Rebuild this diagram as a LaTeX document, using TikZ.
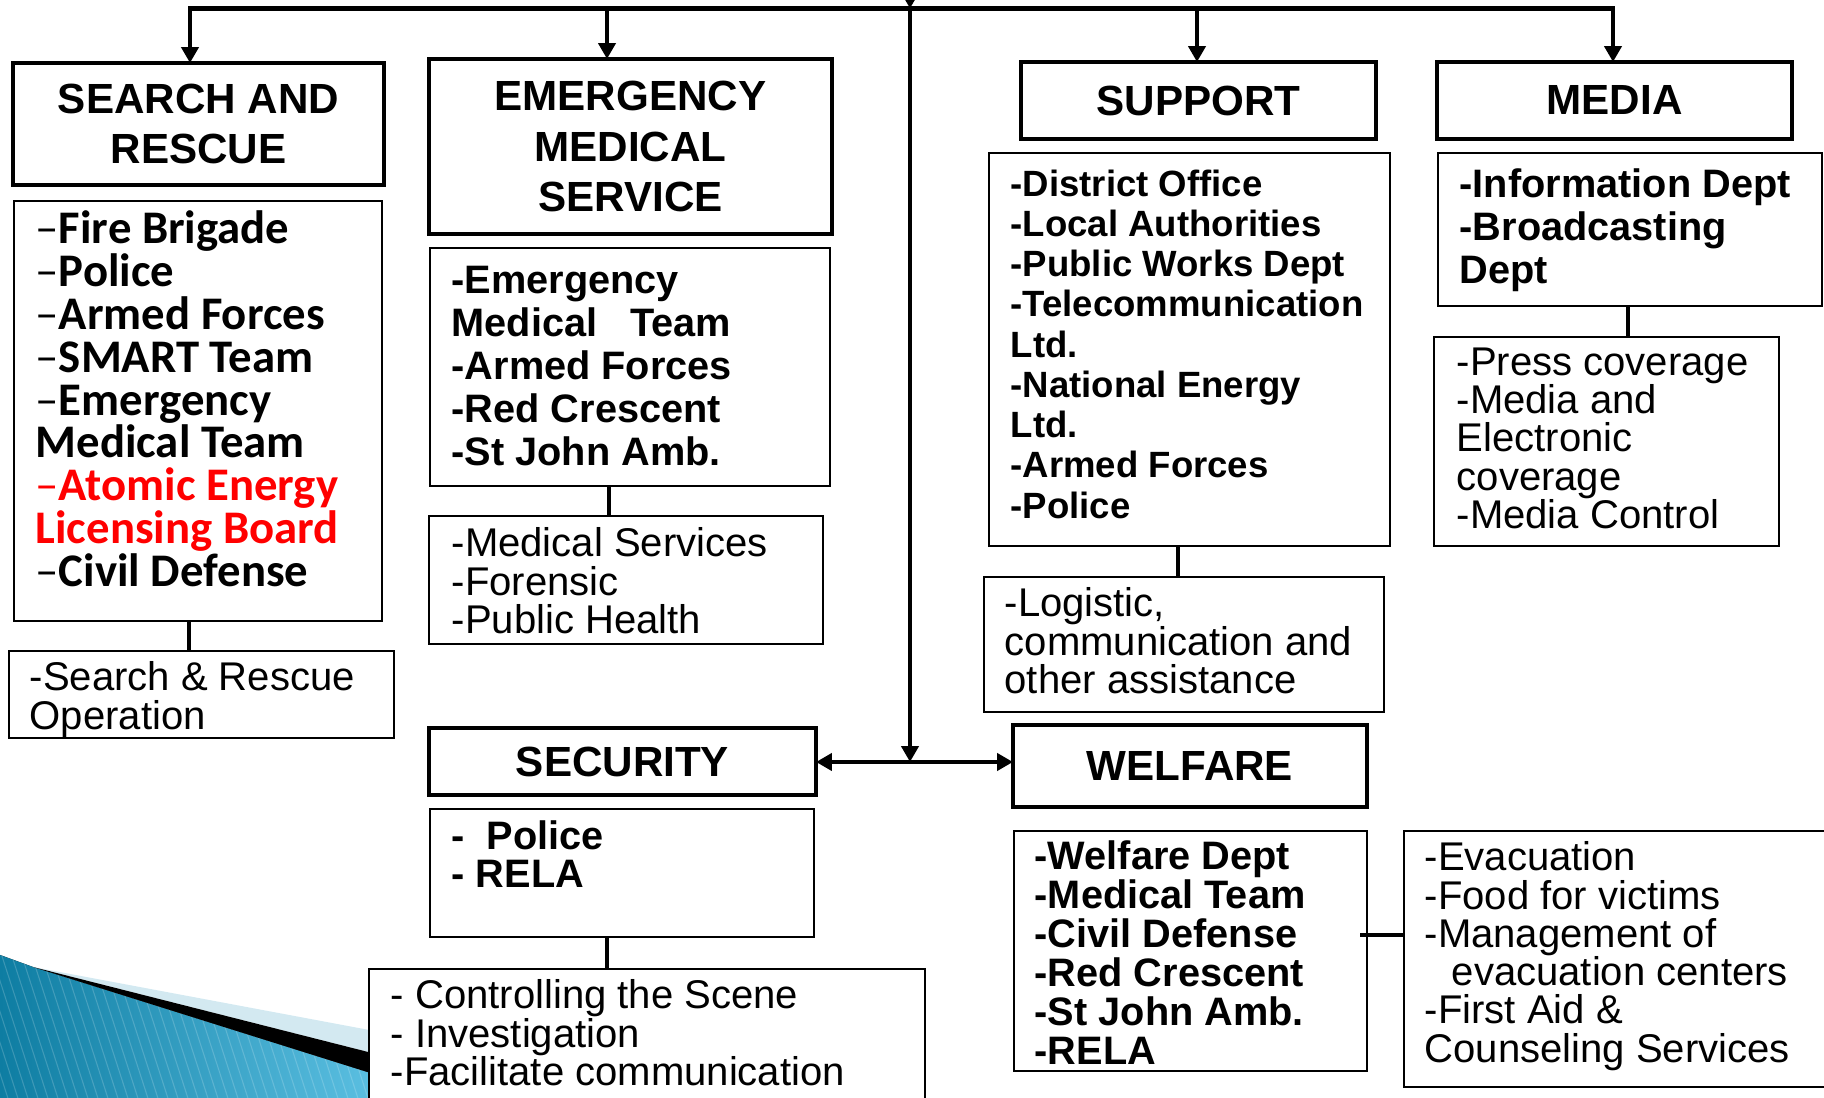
\documentclass[tikz,border=0pt]{standalone}
\usepackage{fontspec}
\setmainfont{Liberation Sans}
\newfontfamily\calfont{Carlito}
\usepackage{tikz}
\usetikzlibrary{arrows.meta,calc,positioning}
\lineskiplimit=-20pt
\newcommand{\thindash}{{\mdseries\textendash}}
\definecolor{wedgedark}{HTML}{0E7DA2}
\definecolor{wedgelight}{HTML}{5CC0E2}
\definecolor{wedgepale}{HTML}{D3E9F1}
\tikzstyle{head}   =[draw, line width=1.4pt, fill=white, inner sep=0pt,
                     outer sep=0pt, anchor=north west, align=center,
                     font=\fontsize{12}{14.5}\selectfont\bfseries]
\tikzstyle{listbox}=[draw, line width=0.5pt, fill=white, inner sep=0pt,
                     outer sep=0pt, anchor=north west]
\tikzstyle{members}=[inner sep=0pt, anchor=north west, align=left,
                     font=\fontsize{11.3}{12.3}\selectfont\bfseries]
\tikzstyle{tasks}  =[inner sep=0pt, anchor=north west, align=left,
                     font=\fontsize{11.4}{10.9}\selectfont]
\tikzstyle{arr}    =[-{Triangle[length=4.5pt,width=4.8pt]}, line width=1.3pt]
\tikzstyle{link}   =[line width=1pt]
\begin{document}
\begin{tikzpicture}[x=1cm, y=1cm]
    \useasboundingbox (0,0) rectangle (18.24,-10.98);

    \begin{scope}
        \clip (0,-9.55) -- (0.33,-9.67) -- (3.80,-10.76) -- (3.80,-11.2) -- (0,-11.2) -- cycle;
        \fill[left color=wedgedark, right color=wedgelight] (0,-9.4) rectangle (3.8,-11.2);
        \foreach \i in {0,...,45}
            \draw[white, opacity=0.18, line width=0.3pt] (\i*0.1-0.6,-9.5) -- ++(0.55,-1.7);
    \end{scope}
    \fill[wedgepale] (0.33,-9.67) -- (3.80,-10.32) -- (3.80,-10.55) -- cycle;
    \fill[black] (0.33,-9.67) -- (3.80,-10.55) -- (3.80,-10.76) -- cycle;

    \node[head, minimum width=3.71cm, minimum height=1.22cm] (sarhead) at (0.13,-0.63) {SEARCH AND\\RESCUE};
    \node[listbox, minimum width=3.68cm, minimum height=4.20cm] (sarlist) at (0.14,-2.01) {};
    \node[listbox, minimum width=3.85cm, minimum height=0.87cm] (sarop) at (0.09,-6.51) {};
    \node[head, minimum width=4.03cm, minimum height=1.75cm] (emshead) at (4.29,-0.59) {EMERGENCY\\MEDICAL\\SERVICE};
    \node[listbox, minimum width=4.00cm, minimum height=2.38cm] (emslist) at (4.30,-2.48) {};
    \node[listbox, minimum width=3.94cm, minimum height=1.28cm] (emsserv) at (4.29,-5.16) {};
    \node[head, minimum width=3.55cm, minimum height=0.77cm] (suphead) at (10.21,-0.62) {SUPPORT};
    \node[listbox, minimum width=4.01cm, minimum height=3.93cm] (suplist) at (9.89,-1.53) {};
    \node[listbox, minimum width=4.00cm, minimum height=1.35cm] (supserv) at (9.84,-5.77) {};
    \node[head, minimum width=3.55cm, minimum height=0.77cm] (medhead) at (14.37,-0.62) {MEDIA};
    \node[listbox, minimum width=3.84cm, minimum height=1.53cm] (medlist) at (14.38,-1.53) {};
    \node[listbox, minimum width=3.45cm, minimum height=2.09cm] (medserv) at (14.34,-3.37) {};
    \node[head, minimum width=3.87cm, minimum height=0.67cm] (sechead) at (4.29,-7.28) {SECURITY};
    \node[listbox, minimum width=3.84cm, minimum height=1.28cm] (seclist) at (4.30,-8.09) {};
    \node[listbox, minimum width=5.56cm, minimum height=1.41cm] (secserv) at (3.69,-9.69) {};
    \node[head, minimum width=3.54cm, minimum height=0.82cm] (welhead) at (10.13,-7.25) {WELFARE};
    \node[listbox, minimum width=3.53cm, minimum height=2.40cm] (wellist) at (10.14,-8.31) {};
    \node[listbox, minimum width=4.30cm, minimum height=2.56cm] (welserv) at (14.04,-8.31) {};

    \node[members, font=\calfont\fontsize{13.3}{12.2}\selectfont\bfseries] (sartxt) at (0.35,-2.10)
        {\thindash Fire Brigade\\\thindash Police\\\thindash Armed Forces\\\thindash SMART Team\\
         \thindash Emergency\\Medical Team\\\textcolor{red}{\thindash Atomic Energy}\\
         \textcolor{red}{Licensing Board}\\\thindash Civil Defense};
    \node[tasks] (saroptxt) at (0.29,-6.61) {-Search \& Rescue\\Operation};
    \node[members] (emstxt) at (4.51,-2.65) {-Emergency\\Medical\ \ \ Team\\-Armed Forces\\-Red Crescent\\-St John Amb.};
    \node[tasks] (emsservtxt) at (4.51,-5.27) {-Medical Services\\-Forensic\\-Public Health};
    \node[members, font=\fontsize{10.4}{11.45}\selectfont\bfseries] (suptxt) at (10.10,-1.69)
        {-District Office\\-Local Authorities\\-Public Works Dept\\-Telecommunication\\Ltd.\\
         -National Energy\\Ltd.\\-Armed Forces\\-Police};
    \node[tasks] (supservtxt) at (10.04,-5.87) {-Logistic,\\communication and\\other assistance};
    \node[members] (medtxt) at (14.59,-1.68) {-Information Dept\\-Broadcasting\\Dept};
    \node[tasks] (medservtxt) at (14.56,-3.47) {-Press coverage\\-Media and\\Electronic\\coverage\\-Media Control};
    \node[members, font=\fontsize{11.3}{10.9}\selectfont\bfseries] (sectxt) at (4.51,-8.20) {-\ \ Police\\- RELA};
    \node[tasks] (secservtxt) at (3.90,-9.79) {- Controlling the Scene\\- Investigation\\-Facilitate communication};
    \node[members, font=\fontsize{11.3}{11.1}\selectfont\bfseries] (weltxt) at (10.34,-8.40)
        {-Welfare Dept\\-Medical Team\\-Civil Defense\\-Red Crescent\\-St John Amb.\\-RELA};
    \node[tasks] (welservtxt) at (14.24,-8.41)
        {-Evacuation\\-Food for victims\\-Management of\\\hspace*{7.7pt}evacuation centers\\-First Aid \&\\Counseling Services};

    \foreach \a/\b/\x in {sarlist/sarop/1.89, emslist/emsserv/6.09, suplist/supserv/11.78,
                          medlist/medserv/16.28, seclist/secserv/6.07}{
        \coordinate (c\a) at (\x,0);
        \draw[link] (c\a |- \a.south) -- (c\a |- \b.north);
    }
    \coordinate (welj) at (13.60,-9.35);
    \draw[link] (welj) -- (welj -| welserv.west);

    \foreach \n/\x in {sarhead/1.90, emshead/6.07, suphead/11.97, medhead/16.13}{
        \coordinate (t\n) at (\x,-0.085);
        \draw[arr] (t\n) -- (t\n |- \n.north);
    }
    \draw[line width=1.3pt, line cap=rect] (tsarhead) -- (tmedhead);

    \coordinate (feed) at (9.10,0.4);
    \coordinate (hub) at (9.10,-0.085);
    \coordinate (split) at (9.10,-7.62);
    \draw[arr] (feed) -- (hub);
    \draw[arr] (hub) -- (split);
    \draw[arr] (split) -- (split -| sechead.east);
    \draw[arr] (split) -- (split -| welhead.west);
\end{tikzpicture}
\end{document}
